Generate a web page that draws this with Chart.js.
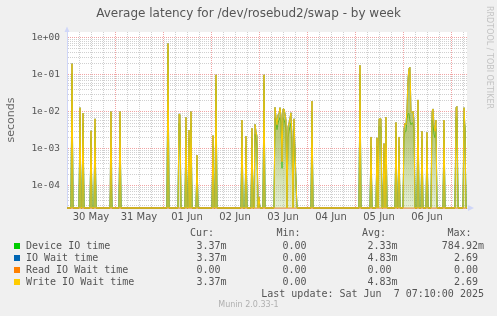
<!DOCTYPE html>
<html><head><meta charset="utf-8">
<script src="https://cdn.jsdelivr.net/npm/chart.js@4/dist/chart.umd.min.js"></script>
<style>
html,body{margin:0;padding:0;background:#f0f0f0;}
#wrap{position:relative;width:497px;height:316px;overflow:hidden;background:#f0f0f0;}
canvas{position:absolute;left:0;top:0;}
.t{position:absolute;white-space:pre;color:#555;}
.mono{font-family:'DejaVu Sans Mono',monospace;font-size:10px;line-height:12px;}
</style></head><body>
<div id="wrap"><canvas id="c" width="497" height="316"></canvas></div>
<script>
// ---- text ----
const title = 'Average latency for /dev/rosebud2/swap - by week';
const yAxisTitle = 'seconds';
const sideText = 'RRDTOOL / TOBI OETIKER';
const lastUpdate = 'Last update: Sat Jun  7 07:10:00 2025';
const footer = 'Munin 2.0.33-1';

// ---- x axis: hours since 30 May 00:00 ----
const dayLabels = ['30 May','31 May','01 Jun','02 Jun','03 Jun','04 Jun','05 Jun','06 Jun'];
const dayTickHours = [12,36,60,84,108,132,156,180];

// ---- y axis ticks ----
const yTickValues = [1e-4,1e-3,1e-2,1e-1,1];
const yTickLabels = ['1e-04','1e-03','1e-02','1e-01','1e+00'];

// ---- series (seconds) ----
const hours = [
  0,2,2.5,3,6,6.5,7,7.5,8,8.5,11.5,12,12.5,13.5,14,14.5,21.5,22,22.5,26,26.5,27,
  50,50.5,51,55.5,56,56.5,57,59,59.5,60,60.5,61,61.5,62,62.5,64.5,65,65.5,
  72.5,73,73.5,74,74.5,75,87,87.5,88,89,89.5,90,92,92.5,93,93.5,94,94.5,95,95.5,96,96.5,98,98.5,99,
  103.5,104,104.5,105,105.5,106,106.5,107,107.5,108,108.5,109,109.5,110,110.5,111,111.5,112,112.5,113,113.5,114,114.5,115,
  122,122.5,123,146,146.5,147,151.5,152,152.5,154.5,155,155.5,156,156.5,157,157.5,158,158.5,159,159.5,160,
  164,164.5,165,165.5,166,166.5,168,168.5,169,169.5,170,170.5,171,171.5,172,172.5,173,173.5,174,
  175,175.5,176,177,177.5,178,179.5,180,180.5,182,182.5,183,183.5,184,184.5,185,
  188,188.5,189,194,194.5,195,195.5,198,198.5,199,199.5,200
];
const writeWait = [
  0,0,0.2,0,0,0.013,0,0,0.0092,0,0,0.0031,0,0,0.0065,0,0,0.0102,0,0,0.0102,0,
  0,0.7,0,0,0.0087,0.0085,0,0,0.0071,0,0,0.0032,0,0.0102,0,0,0.00068,0,
  0,0.0023,0,0,0.1,0,0,0.006,0,0,0.0022,0,0,0.0036,0,0,0.0046,0.003,0.0022,0,0.00005,0,0,0.1,0,
  0,0.0132,0.007,0.0045,0.0085,0.009,0.013,0.008,0.00045,0.012,0.012,0.009,0.006,0,0.004,0.005,0.007,0.0095,0.002,0,0.0065,0.001,0.00014,0,
  0,0.0195,0,0,0.18,0,0,0.0021,0,0,0.002,0,0.0065,0.0065,0.0065,0,0,0.0014,0,0.0072,0,
  0,0.0052,0,0,0.0021,0,0,0.0035,0.005,0.0045,0.0125,0.08,0.15,0.16,0.01,0.0095,0.0105,0.006,0,
  0,0.021,0,0,0.003,0,0,0.0028,0,0,0.0102,0.012,0.0045,0.003,0.006,0,
  0,0.006,0,0,0.013,0.014,0,0,0.013,0.0035,0,0
];
const ioWait = [
  0,0,0.2,0,0,0.013,0,0,0.0092,0,0,0.0031,0,0,0.0065,0,0,0.0102,0,0,0.0102,0,
  0,0.7,0,0,0.0087,0.0085,0,0,0.0071,0,0,0.0032,0,0.0102,0,0,0.00068,0,
  0,0.0023,0,0,0.1,0,0,0.006,0,0,0.0022,0,0,0.0036,0,0,0.0046,0.003,0.0022,0,0.00005,0,0,0.1,0,
  0,0.0132,0.007,0.0045,0.0085,0.009,0.013,0.008,0.00045,0.012,0.012,0.009,0.006,0,0.004,0.005,0.007,0.0095,0.002,0,0.0065,0.001,0.00014,0,
  0,0.0195,0,0,0.18,0,0,0.0021,0,0,0.002,0,0.0065,0.0065,0.0065,0,0,0.0014,0,0.0072,0,
  0,0.0052,0,0,0.0021,0,0,0.0035,0.005,0.0045,0.0125,0.08,0.15,0.16,0.01,0.0095,0.0105,0.006,0,
  0,0.021,0,0,0.003,0,0,0.0028,0,0,0.0102,0.012,0.0045,0.003,0.006,0,
  0,0.006,0,0,0.013,0.014,0,0,0.013,0.0035,0,0
];
const deviceTime = [
  0,0,0.11,0,0,0.007,0,0,0.005,0,0,0.002,0,0,0.004,0,0,0.0002,0,0,0.006,0,
  0,0.45,0,0,0.005,0.004,0,0,0.004,0,0,0.002,0,0.005,0,0,0.0004,0,
  0,0.0012,0,0,0.06,0,0,0.003,0,0,0.0012,0,0,0.002,0,0,0.0025,0.0018,0.0012,0,0.00004,0,0,0.06,0,
  0,0.007,0.005,0.0033,0.005,0.006,0.007,0.005,0.0003,0.007,0.006,0.005,0.003,0,0.002,0.003,0.004,0.005,0.001,0,0.0035,0.0006,0.0001,0,
  0,0.01,0,0,0.1,0,0,0.0012,0,0,0.0012,0,0.004,0.004,0.0035,0,0,0.0008,0,0.004,0,
  0,0.003,0,0,0.0012,0,0,0.002,0.003,0.003,0.0065,0.009,0.009,0.0055,0.0045,0.005,0.005,0.003,0,
  0,0.011,0,0,0.0018,0,0,0.0016,0,0,0.006,0.0045,0.0025,0.002,0.0035,0,
  0,0.0035,0,0,0.007,0.007,0,0,0.007,0.0034,0,0
];
const readHours = [0,200];
const readWait = [0,0];

// ---- legend ----
const seriesNames = ['Device IO time','IO Wait time','Read IO Wait time','Write IO Wait time'];
const curVals = ['3.37m','3.37m','0.00 ','3.37m'];
const minVals = ['0.00 ','0.00 ','0.00 ','0.00 '];
const avgVals = ['2.33m','4.83m','0.00 ','4.83m'];
const maxVals = ['784.92m','2.69 ','0.00 ','2.69 '];

// ---- styles ----
const seriesColors = ['#00cc00','#0066b3','#ff8000','#ffcc00'];
const Y_MIN = 2.55e-5, Y_MAX = 1.425;
const GRID = 'rgba(150,150,150,0.45)', MGRID = 'rgba(230,90,90,0.55)';
const AXIS = '#CFD6F8';

const pts = (xs, ys) => xs.map((x, i) => ({x: x, y: ys[i] > 0 ? ys[i] : Y_MIN}));
const isDecade = v => Math.abs(Math.log10(v) - Math.round(Math.log10(v))) < 1e-9;

function spikeFill(ctx){
  const ch = ctx.chart, a = ch.chartArea;
  if (!a) return 'rgba(160,175,50,0.6)';
  const g = ch.ctx.createLinearGradient(0, a.top, 0, a.bottom);
  g.addColorStop(0, 'rgba(150,170,40,0.8)');
  g.addColorStop(0.6, 'rgba(150,175,60,0.65)');
  g.addColorStop(1, 'rgba(175,205,130,0.35)');
  return g;
}

const plotBg = {id:'plotBg', beforeDraw(c){const a=c.chartArea,x=c.ctx;x.save();x.fillStyle='#ffffff';x.fillRect(a.left,a.top,a.right-a.left,a.bottom-a.top);x.restore();}};
const arrows = {id:'arrows', afterDraw(c){
  const a=c.chartArea,x=c.ctx; x.save(); x.fillStyle=AXIS;
  x.beginPath(); x.moveTo(a.left-2.5,a.top); x.lineTo(a.left+2.5,a.top); x.lineTo(a.left,a.top-5.5); x.closePath(); x.fill();
  x.beginPath(); x.moveTo(a.right+1,a.bottom-3); x.lineTo(a.right+1,a.bottom+3); x.lineTo(a.right+7,a.bottom); x.closePath(); x.fill();
  x.restore();
}};

new Chart(document.getElementById('c'), {
  type: 'line',
  data: { datasets: [
    {label: seriesNames[3], data: pts(hours, writeWait), borderColor: seriesColors[3], backgroundColor: spikeFill, fill: 'start', order: 1},
    {label: seriesNames[2], data: pts(readHours, readWait), borderColor: seriesColors[2], fill: false, order: 2},
    {label: seriesNames[1], data: pts(hours, ioWait), borderColor: seriesColors[1], fill: false, order: 3},
    {label: seriesNames[0], data: pts(hours, deviceTime), borderColor: seriesColors[0], fill: false, order: 4}
  ]},
  options: {
    responsive: false, animation: false, devicePixelRatio: 1,
    layout: {padding: {left: 0, right: 30, top: 32, bottom: 0}},
    plugins: {legend: {display: false}, tooltip: {enabled: false}, title: {display: false}},
    elements: {line: {borderWidth: 1, tension: 0}, point: {radius: 0}},
    datasets: {line: {clip: {left: 0, top: 0, right: 0, bottom: 2}}},
    scales: {
      x: {
        type: 'linear', min: 0, max: 200,
        afterBuildTicks(s){ const t=[]; for(let v=0; v<200; v+=6) t.push({value:v}); s.ticks=t; },
        afterFit(s){ s.height = 108; },
        ticks: {autoSkip: false, maxRotation: 0, minRotation: 0, padding: 3, color: '#555',
          font: {family: 'DejaVu Sans', size: 10},
          callback(v){ const i = dayTickHours.indexOf(v); return i >= 0 ? dayLabels[i] : ''; }},
        grid: {color: c => (c.tick && c.tick.value % 24 === 0) ? MGRID : GRID, drawTicks: false, lineWidth: 1},
        border: {display: true, color: AXIS, dash: [1,1]}
      },
      y: {
        type: 'logarithmic', min: Y_MIN, max: Y_MAX,
        afterBuildTicks(s){ const t=[]; for(let e=-5;e<=0;e++) for(let k=1;k<=9;k++){ const v=k*Math.pow(10,e); if(v>=Y_MIN && v<=Y_MAX) t.push({value:v}); } s.ticks=t; },
        afterFit(s){ s.width = 67; },
        ticks: {autoSkip: false, padding: 7, color: '#555',
          font: {family: 'DejaVu Sans Mono', size: 9.5},
          callback(v){ const i = yTickValues.findIndex(tv => Math.abs(tv - v) / tv < 1e-9); return i >= 0 ? yTickLabels[i] : ''; }},
        grid: {color: c => (c.tick && isDecade(c.tick.value)) ? MGRID : GRID, drawTicks: false, lineWidth: 1},
        border: {display: true, color: AXIS, dash: [1,1]}
      }
    }
  },
  plugins: [plotBg, arrows]
});

// ---- texts outside the plot ----
const wrap = document.getElementById('wrap');
function addText(txt, cls, st){ const d=document.createElement('div'); d.className='t '+cls; d.textContent=txt; Object.assign(d.style, st); wrap.appendChild(d); return d; }

addText(title, '', {left:'0px', width:'497px', textAlign:'center', top:'6px', font:'12px "DejaVu Sans"', lineHeight:'14px'});
addText(yAxisTitle, '', {left:'-19px', top:'113px', width:'60px', height:'14px', textAlign:'center', font:'11px "DejaVu Sans"', lineHeight:'14px', color:'#666', transform:'rotate(-90deg)'});
addText(sideText, '', {left:'439px', top:'51px', width:'100px', height:'10px', textAlign:'center', font:'8px "DejaVu Sans"', lineHeight:'10px', color:'#c4c4c4', transform:'rotate(90deg)'});

const headers = ['Cur:','Min:','Avg:','Max:'];
const headerLeft = [190, 276.5, 362, 447.5];
headers.forEach((h,i) => addText(h, 'mono', {left: headerLeft[i]+'px', top:'227.3px'}));

const rowCenter = [245.7, 257.7, 269.7, 281.7];
const colRight = [226.5, 312.5, 397.5, 484];
const cols = [curVals, minVals, avgVals, maxVals];
seriesNames.forEach((n,i) => {
  const sw = document.createElement('div');
  Object.assign(sw.style, {position:'absolute', left:'14px', top:(rowCenter[i]-3)+'px', width:'6px', height:'6px', background: seriesColors[i]});
  wrap.appendChild(sw);
  addText(n, 'mono', {left:'26px', top:(rowCenter[i]-6)+'px'});
  cols.forEach((col,j) => addText(col[i], 'mono', {right:(497-colRight[j])+'px', top:(rowCenter[i]-6)+'px', textAlign:'right'}));
});
addText(lastUpdate, 'mono', {right:(497-484)+'px', top:'287.7px', textAlign:'right'});
addText(footer, '', {left:'0px', width:'497px', textAlign:'center', top:'300.3px', font:'8px "DejaVu Sans"', lineHeight:'10px', color:'#b0b0b0'});
</script>
</body></html>
